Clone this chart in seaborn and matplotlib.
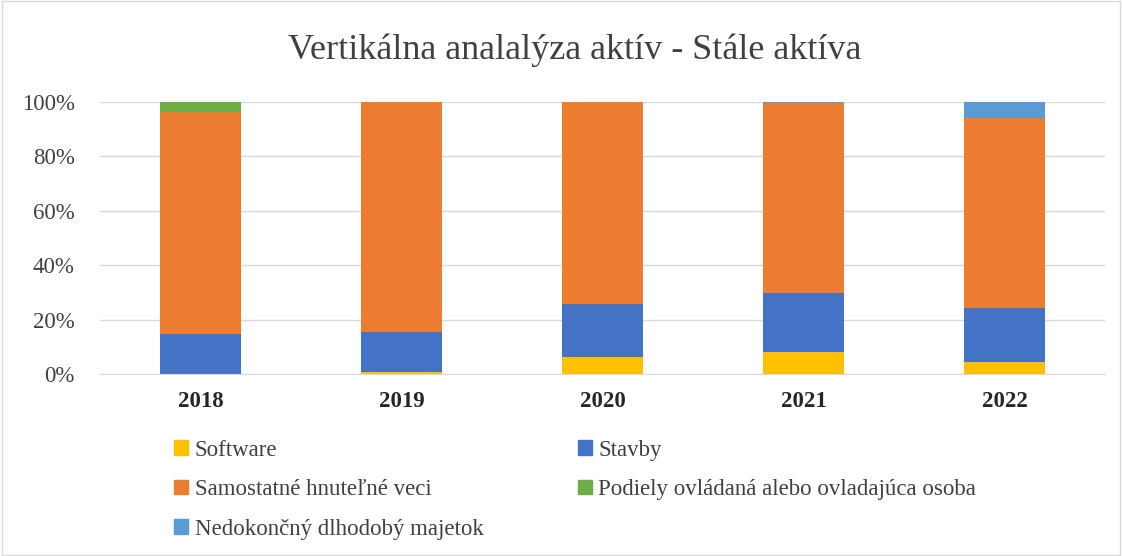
import pandas as pd
import matplotlib.pyplot as plt
import seaborn as sns
from matplotlib.patches import Patch

years = ["2018", "2019", "2020", "2021", "2022"]
software = [0.0, 0.8, 6.4, 8.3, 4.5]
stavby = [14.8, 14.8, 19.4, 21.4, 19.9]
hnutelne = [81.6, 84.4, 74.2, 69.9, 69.8]
podiely = [3.6, 0.0, 0.0, 0.0, 0.0]
nedokoncny = [0.0, 0.0, 0.0, 0.4, 5.8]

series = ["Software", "Stavby", "Samostatné hnuteľné veci",
          "Podiely ovládaná alebo ovladajúca osoba", "Nedokončný dlhodobý majetok"]
colors = ["#FFC000", "#4472C4", "#ED7D31", "#70AD47", "#5B9BD5"]

df = pd.DataFrame({"Rok": years, series[0]: software, series[1]: stavby,
                   series[2]: hnutelne, series[3]: podiely, series[4]: nedokoncny})
cum = df[series].cumsum(axis=1) / 100

sns.set_style("white")
plt.rcParams['font.family'] = ['Liberation Serif', 'DejaVu Serif']

fig = plt.figure(figsize=(11.22, 5.56), dpi=100)
ax = fig.add_axes([0.089, 0.327, 0.896, 0.4895])

# stacked bars: draw cumulative totals from top layer down
for name, col in reversed(list(zip(series, colors))):
    sns.barplot(x=df["Rok"], y=cum[name], color=col, width=0.4,
                saturation=1, ax=ax, linewidth=0)

ax.set_ylim(0, 1)
ax.set_yticks([0, 0.2, 0.4, 0.6, 0.8, 1.0])
ax.set_yticklabels(["0%", "20%", "40%", "60%", "80%", "100%"], fontsize=16.5, color="#404040")
ax.set_xticklabels(years, fontsize=16.5, fontweight="bold", color="#262626")
ax.grid(axis="y", color="#d9d9d9", linewidth=1)
ax.set_axisbelow(True)
for s in ["top", "left", "right"]:
    ax.spines[s].set_visible(False)
ax.spines["bottom"].set_color("#d9d9d9")
ax.tick_params(axis="y", length=0, pad=18)
ax.tick_params(axis="x", length=0, pad=12)
ax.set_xlabel("")
ax.set_ylabel("")

fig.text(0.512, 0.91, "Vertikálna analalýza aktív - Stále aktíva", ha="center", va="center",
         fontsize=26, color="#404040")

# row-major legend order for ncol=2
order = [0, 2, 4, 1, 3]
handles = [Patch(color=colors[i], label=series[i]) for i in order]
fig.legend(handles=handles, ncol=2, loc="upper left", bbox_to_anchor=(0.137, 0.246),
           frameon=False, fontsize=16.5, handlelength=0.6, handleheight=0.6,
           handletextpad=0.3, columnspacing=4.1, labelspacing=0.8,
           labelcolor="#404040")

fig.patches.append(plt.Rectangle((0.002, 0.002), 0.996, 0.996, transform=fig.transFigure,
                                 fill=False, edgecolor="#d9d9d9", linewidth=1))

fig.savefig("out.png", dpi=100)
